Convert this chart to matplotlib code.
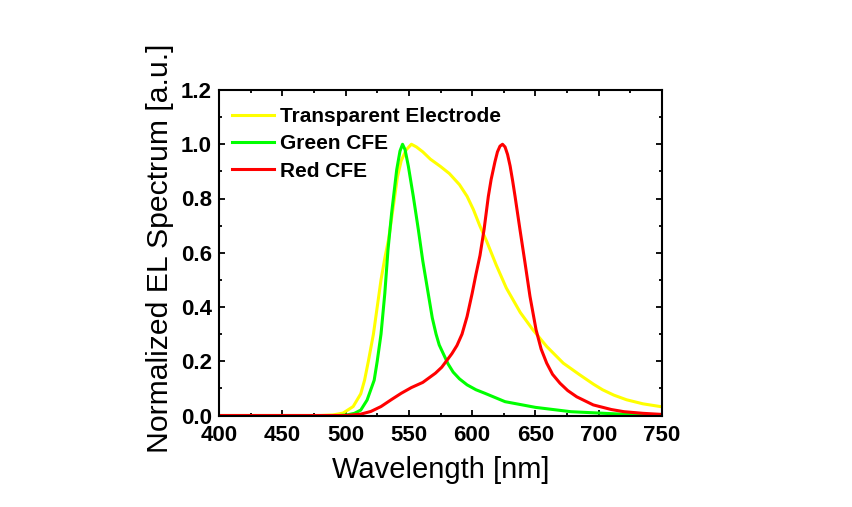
import matplotlib
matplotlib.use('Agg')
import matplotlib.pyplot as plt
from matplotlib.ticker import MultipleLocator, FormatStrFormatter

plt.rcParams['font.family'] = ['Liberation Sans', 'DejaVu Sans']

# Transparent electrode (yellow)
wl_te = [400, 480, 490, 498, 506, 512, 515, 518, 522, 525, 528, 531, 534, 538,
         541, 544, 548, 552, 556, 561, 567, 575, 582, 590, 596, 601, 606, 611.5,
         619, 627, 638, 648, 659, 672, 685, 696, 703, 712, 722, 735, 750]
el_te = [0, 0, 0.002, 0.009, 0.033, 0.08, 0.13, 0.20, 0.30, 0.40, 0.50, 0.58, 0.65, 0.78,
         0.88, 0.94, 0.98, 1.0, 0.99, 0.972, 0.945, 0.918, 0.892, 0.851, 0.808, 0.759, 0.70, 0.642,
         0.555, 0.47, 0.38, 0.316, 0.254, 0.193, 0.15, 0.115, 0.095, 0.075, 0.058, 0.043, 0.032]

# Green CFE
wl_g = [400, 495, 501, 507, 512, 517, 522.6, 525, 528, 531, 533.5, 536.4, 540.4, 543, 545, 547,
        549.6, 553.5, 557.5, 561, 563.5, 566, 568.5, 571.5, 574, 577, 581, 585, 590, 596,
        603, 610, 626, 650, 678, 718, 750]
el_g = [0, 0, 0.002, 0.008, 0.02, 0.057, 0.13, 0.20, 0.30, 0.45, 0.61, 0.747, 0.906, 0.975, 1.0, 0.98,
        0.919, 0.808, 0.685, 0.57, 0.50, 0.43, 0.36, 0.30, 0.26, 0.23, 0.19, 0.16, 0.135, 0.113,
        0.095, 0.082, 0.051, 0.030, 0.014, 0.005, 0.002]

# Red CFE
wl_r = [400, 500, 505, 512, 520, 528, 536, 544, 552, 561, 571, 576, 580, 584, 588, 592, 596, 600,
        603, 606.2, 609.4, 612.8, 615, 618, 620, 622, 624, 626, 628, 630, 632, 633.9, 637.8,
        641.8, 645.7, 650.5, 654.5, 658.9, 663.5, 669.4, 675.5, 682.6, 695.7, 710, 720, 735, 750]
el_r = [0, 0, 0.002, 0.005, 0.015, 0.033, 0.058, 0.082, 0.103, 0.122, 0.156, 0.178, 0.203, 0.228, 0.258,
        0.30, 0.365, 0.45, 0.52, 0.59, 0.685, 0.808, 0.87, 0.935, 0.972, 0.993, 1.0, 0.99, 0.962,
        0.92, 0.865, 0.808, 0.685, 0.562, 0.439, 0.316, 0.245, 0.193, 0.152, 0.119, 0.092, 0.069,
        0.039, 0.022, 0.014, 0.008, 0.004]

labels = ['Transparent Electrode', 'Green CFE', 'Red CFE']
colors = ['#FFFF00', '#00FF00', '#FF0000']

fig = plt.figure(figsize=(8.53, 5.07), dpi=100)
ax = fig.add_axes([219 / 853, 1 - 415.5 / 507, 443 / 853, 325.5 / 507])

for wl, el, lab, c in zip([wl_te, wl_g, wl_r], [el_te, el_g, el_r], labels, colors):
    ax.plot(wl, el, color=c, lw=2.2, label=lab)

ax.set_xlim(400, 750)
ax.set_ylim(0, 1.2)
ax.xaxis.set_major_locator(MultipleLocator(50))
ax.xaxis.set_minor_locator(MultipleLocator(25))
ax.yaxis.set_major_locator(MultipleLocator(0.2))
ax.yaxis.set_minor_locator(MultipleLocator(0.1))
ax.yaxis.set_major_formatter(FormatStrFormatter('%.1f'))

ax.tick_params(which='both', direction='in', top=True, right=True, width=1.3)
ax.tick_params(which='major', length=4, labelsize=16)
ax.tick_params(which='minor', length=2.5)
ax.tick_params(axis='x', pad=7)
ax.tick_params(axis='y', pad=5)
for lab in ax.get_xticklabels() + ax.get_yticklabels():
    lab.set_fontweight('bold')
for sp in ax.spines.values():
    sp.set_linewidth(1.5)

ax.set_xlabel('Wavelength [nm]', fontsize=21, labelpad=7)
ax.set_ylabel('Normalized EL Spectrum [a.u.]', fontsize=21.7)
ax.yaxis.set_label_coords(-0.102, 0.513)

ax.legend(loc='upper left', bbox_to_anchor=(0.029, 0.948), frameon=False,
          prop={'weight': 'bold', 'size': 15}, handlelength=2.0, handletextpad=0.3,
          labelspacing=0.4, borderpad=0, borderaxespad=0)

fig.savefig('out.png', dpi=100, facecolor='white')
